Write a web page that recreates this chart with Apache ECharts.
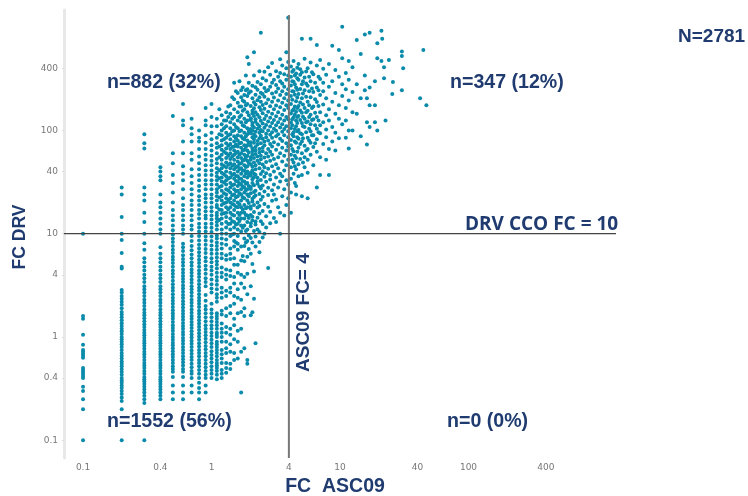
<!DOCTYPE html>
<html>
<head>
<meta charset="utf-8">
<style>html,body{margin:0;padding:0;background:#fff}#c{width:748px;height:496px}</style>
<script src="https://cdn.jsdelivr.net/npm/echarts@6/dist/echarts.min.js"></script>
</head>
<body>
<div id="c"></div>
<script>
const xTickLabels = [0.1, 0.4, 1, 4, 10, 40, 100, 400];
const yTickLabels = [0.1, 0.4, 1, 4, 10, 40, 100, 400];

// FC DRV values per FC ASC09 column
const col01 = [0.1,0.2,0.25,0.3,0.33,0.4,0.42,0.44,0.46,0.48,0.5,0.63,0.66,0.69,0.72,0.75,0.84,1.05,1.5,1.6,10];
const col02 = [0.1,0.2,0.24,0.26,0.28,0.3,0.32,0.34,0.36,0.38,0.4,0.43,0.46,0.49,0.52,0.55,0.58,0.62,0.66,0.7,0.75,0.8,0.85,0.9,0.95,1,1.07,1.14,1.2,1.28,1.36,1.45,1.55,1.65,1.75,1.9,2.05,2.2,2.35,2.5,2.7,2.85,4.6,4.8,6.5,8.7,10,14.5,24,28];
const col03 = [0.1,0.23,0.25,0.27,0.29,0.31,0.33,0.35,0.37,0.39,0.41,0.44,0.47,0.5,0.53,0.56,0.6,0.64,0.68,0.72,0.77,0.82,0.87,0.92,0.98,1.04,1.1,1.17,1.25,1.33,1.42,1.52,1.62,1.72,1.85,2,2.15,2.3,2.5,2.7,2.9,3.1,3.4,3.7,4,4.4,4.8,5.3,5.8,7,8.1,10,13,16,21,24,28,67,75,92];
const col04 = [0.25,0.27,0.29,0.31,0.33,0.35,0.37,0.39,0.41,0.44,0.47,0.5,0.53,0.56,0.6,0.64,0.68,0.72,0.77,0.82,0.87,0.92,0.98,1.04,1.1,1.17,1.25,1.33,1.42,1.52,1.62,1.72,1.85,2,2.15,2.3,2.5,2.7,2.9,3.1,3.4,3.7,4,4.4,4.8,5.3,5.8,6.4,7.4,10,11,12.5,14,16,18,20,24,33,36,40,44];
const col05 = [0.25,0.29,0.34,0.41,0.46,0.49,0.52,0.56,0.6,0.64,0.68,0.73,0.78,0.83,0.88,0.94,1,1.07,1.15,1.22,1.3,1.4,1.5,1.6,1.7,1.82,1.95,2.1,2.25,2.4,2.6,2.8,3,3.25,3.5,3.8,4.1,4.4,4.8,5.2,5.6,6,6.5,7,7.6,8.3,9,9.8,10.8,12,13.5,15,17,20,25,31,37,48,60,138];
const col06 = [0.25,0.29,0.34,0.41,0.46,0.49,0.53,0.57,0.61,0.65,0.7,0.75,0.8,0.86,0.92,0.98,1.05,1.12,1.2,1.28,1.37,1.47,1.57,1.68,1.8,1.93,2.07,2.22,2.38,2.55,2.75,2.95,3.15,3.4,3.65,3.9,4.2,4.5,4.9,5.3,5.7,6.2,6.8,7.4,8,10,11,12,13.5,15,17,19,22,27,33,38,45,60,78,112,125,180];
const col07 = [0.29,0.34,0.4,0.44,0.47,0.51,0.55,0.6,0.64,0.69,0.74,0.8,0.86,0.92,0.99,1.06,1.14,1.22,1.31,1.4,1.5,1.6,1.72,1.85,2,2.15,2.3,2.5,2.7,2.9,3.1,3.35,3.6,3.9,4.2,4.5,4.9,5.3,5.8,6.3,6.9,7.6,8.5,9.5,11,12,13.5,15,17,19,21,24,27,31,36,42,52,60,78,92,105,130];
const col08 = [0.25,0.29,0.32,0.36,0.4,0.44,0.48,0.52,0.56,0.6,0.65,0.7,0.75,0.81,0.87,0.94,1.01,1.09,1.17,1.26,1.35,1.45,1.56,1.68,1.8,1.95,2.1,2.25,2.4,2.6,2.8,3,3.25,3.5,3.8,4.1,4.4,4.8,5.2,5.6,6.1,6.6,7.2,7.8,8.6,9.5,10.5,11.5,12.5,14,15.5,17,19,21,23,26,29,33,37,42,48,56,66,78,85,100];
const col09 = [0.29,0.34,0.4,0.43,0.47,0.51,0.55,0.6,0.65,0.7,0.76,0.82,0.89,0.96,1.04,1.12,1.2,1.3,1.42,1.55,1.7,1.85,2,2.25,2.55,3.1,3.4,3.7,4.1,4.5,4.9,5.4,5.9,6.5,7.1,7.8,8.6,9.4,10.5,11.5,12.5,14,15,16.5,18,20,22,24,27,30,33,37,41,46,52,58,66,76,90,112,125,165];
const col10 = [0.4,0.44,0.48,0.52,0.57,0.62,0.67,0.73,0.8,0.87,0.94,1.02,1.1,1.2,1.3,1.42,1.55,1.7,1.85,2.1,2.7,2.95,3.25,3.6,4,4.4,4.8,5.3,5.8,6.4,7,7.7,8.5,9.4,10.4,11.4,12.5,13.7,15,16.5,18,20,22,24,27,30,33,37,41,46,51,57,64,72,82,95,110,135,180];
const col11 = [0.39,0.43,0.47,0.5,0.53,0.56,0.6,0.65,0.7,0.75,0.8,0.85,0.9,1,1.05,1.1,1.2,1.3,1.4,1.5,1.6,1.7,2.2,2.4,2.6,2.9,3.2,3.5,3.8,4.2,4.6,5,5.4,5.9,6.4,7,7.6,8.2,9,9.6,11,12,13,14,15,16,18,19,21,23,25,27,30,33,36,39,43,48,53,60,68,75,85,110,130];
const col12 = [0.4,0.44,0.48,0.56,0.62,0.68,0.75,0.9,1,1.1,1.2,1.35,1.65,1.8,2.4,2.7,3,3.8,4.2,4.7,5.8,6.4,7.2,8,9,10,11,12.5,14,15.5,17,19,21,23,26,29,32,35,39,43,47,52,58,65,72,80,90,100,115,140];
const col13 = [0.45,0.5,0.56,0.7,0.78,0.9,1.1,1.25,1.6,1.9,2.5,2.8,3.6,4,4.5,5.6,6.2,7.8,8.8,10,11.5,13,14.5,16,18,20,22,24,27,30,33,36,40,44,49,54,60,67,75,85,95,110,125,150];
const col14 = [0.49,0.55,0.72,0.85,1.05,1.2,1.7,2,2.7,3,3.9,4.4,5.7,6.4,7.2,9.5,11,12.5,14,16,18,20,22,25,28,31,35,39,43,48,53,60,66,74,82,92,105,120,145,175];
const col15 = [0.6,0.7,0.95,1.3,1.5,2.1,2.5,3.3,3.8,5,5.8,7.5,8.5,10,11.5,13,15,17,19,21,24,27,30,34,38,42,47,52,58,64,70,78,88,100,115,135,160,200,290];
const col16 = [0.62,0.9,1.15,1.7,2.4,2.9,4.2,5,7,8,9.5,11,12.5,14,16,18,20,23,26,29,32,36,40,45,50,55,62,70,80,90,105,125,150,185,230];
const col17 = [0.29,0.72,1.2,1.75,2.3,3.3,4,5.5,7.5,10.5,12,14,16,18,21,24,27,30,34,38,43,48,54,60,68,76,88,100,120,140,170,210,245];
const col18 = [0.78,1.6,1.9,3,3.8,5.4,7.6,9,12,14,16,19,22,25,28,32,36,41,46,52,58,65,72,82,95,110,130,160,190,220];
const col19 = [0.55,0.6,2.6,4.1,6,8.5,11,13,15,18,21,24,27,31,35,40,45,51,57,64,72,80,92,105,125,150,180,215,250,510];

const leftColumns = [
  [0.1,col01],[0.2,col02],[0.3,col03],[0.4,col04],[0.5,col05],[0.6,col06],[0.7,col07],[0.8,col08],[0.9,col09],[1,col10],
  [1.1,col11],[1.2,col12],[1.3,col13],[1.4,col14],[1.5,col15],[1.6,col16],[1.7,col17],[1.8,col18],[1.9,col19]
];
const coreColumns = [
  [1.15,[13.6,17.2,22.4,28.3,34.5,41.2,55,70,92,160]],
  [1.25,[15.8,19.7,24.6,31.4,37.6,45.3,62,82,105,125]],
  [1.35,[12.4,17.3,21.2,26.2,34.2,46.6,57,71,90,135,170]],
  [1.45,[9.8,13.2,15.3,19.4,23.6,29.4,37,45.6,56,69,98,130,210]],
  [1.55,[8.2,12.3,18.2,22.6,25.7,32.4,36.2,44,60.5,73,84,108,240]],
  [1.65,[13.3,15.2,19.3,24.7,30.6,34.3,42.3,47.5,58.4,75,98,135,170,300]],
  [1.75,[6.1,11.4,17.2,22.5,28.6,32.2,40.6,51,64,84,112,155,195,260]],
  [1.85,[8.2,10.6,15.2,17.6,26.4,30.4,38.3,44.2,55,69,88,120,175,245,340]],
  [1.95,[7.1,9.6,14.2,19.8,23,29,37.2,48.4,61,76,98,140,230,290,440]]
];
const midColumns = [
  [2.02,[1.62,3.1,6.4,9.1,11.8,12.6,15.2,17.4,18.3,24.6,27.1,28.4,36.5,39,47,52,55,71,77,94,103,126,131,172,238]],
  [2.08,[1.74,5.1,8.2,13.4,14.6,20.5,21.8,31,33.6,41,44.5,58,63,67,86,99,112,118,146,155,205,270]],
  [2.14,[2.35,4.3,10.6,16.2,19,22.7,25.3,29.5,35.2,38,49,54,76,82,91,107,138,164,187,340,570]],
  [2.2,[0.87,7.5,9.4,12.3,13.1,23.4,26.1,37.2,42,46,59,64,69,88,97,121,128,150,178,221,262]],
  [2.28,[11,14.3,17.9,20.1,30.5,32.2,34.8,51,56,73,79,104,115,142,196,248,295]],
  [2.36,[6.6,8.3,10.4,15.7,18.6,24.2,28.6,43,48,61,66,84,95,110,134,168,209,375]],
  [2.42,[13.2,21.3,27.4,33.1,37.9,52.5,57,75,89,101,124,158,190,232,280,880]],
  [2.5,[9.2,12.4,16.6,22.8,29.3,40.2,46.7,63,68,83,98,117,147,176,225,320]],
  [2.58,[10,19.4,25.6,35.7,44,54.6,72,78,106,129,162,212,258,370]],
  [2.66,[11.5,14.8,31.8,38.6,49.5,60,86,93,113,139,183,240,305]],
  [2.76,[4.65,18.2,23.7,27.8,42.5,56,66,80,100,122,152,199,246,410]],
  [2.86,[12.6,16.3,33.5,37,51,62,74,91,109,133,171,265,345]],
  [2.96,[20.8,26.4,45,58,70,85,96,118,145,190,228,290,450]],
  [3.06,[14.2,24,30,40,53,77,104,126,160,208,310]],
  [3.18,[13,21.5,35,47,65,88,99,112,137,174,235,275,375]],
  [3.3,[18,28,43,55,73,92,120,150,195,255,330]],
  [3.42,[10,16,32,38,60,83,107,130,168,220,300,360,490]],
  [3.55,[23,36,50,68,79,97,115,142,185,240,285,425]],
  [3.68,[15,27,41,57,90,103,125,158,205,265,350]],
  [3.82,[19,33,46,64,75,110,135,175,225,310,400,570]],
  [3.95,[22,30,52,70,86,98,128,165,195,250,340,460,1230]]
];
const rightColumns = [
  [4.15,[16,25,34,44,58,72,81,105,119,146,180,215,272,330,415]],
  [4.25,[52,66,92,112,128,155,198,240,300,370]],
  [4.35,[38,49,63,88,96,134,160,238,296,385,470]],
  [4.45,[31,45,57,78,103,142,170,222,280,340]],
  [4.55,[24,29,42,54,76,110,125,152,192,260,355]],
  [4.65,[62,86,98,118,135,165,208,248,320,405]],
  [4.75,[36,47,68,83,101,138,172,225,310,440]],
  [4.9,[53,74,94,126,156,186,252,345,390]],
  [5.05,[23,37,60,78,92,118,148,205,280,365,770]],
  [5.15,[49,84,110,136,178,228,300]],
  [5.3,[44,55,71,108,130,165,245,325,495]],
  [5.45,[64,96,120,150,212,285,372]],
  [5.6,[22,39,52,66,85,122,155,190,270,400]],
  [5.75,[80,104,135,175,240,330]],
  [5.9,[58,76,98,115,142,210,300,455,770]],
  [6.05,[90,126,165,255,365]],
  [6.2,[46,69,90,128,170,235,350]],
  [6.4,[75,112,148,200,290]],
  [6.6,[28,62,82,104,135,188,260,425,670]],
  [6.8,[96,125,172,245,330]],
  [7,[37,55,94,112,150,220,315,480]],
  [7.4,[74,120,178,240,290,395]],
  [7.8,[52,86,102,140,205,345]],
  [8.2,[37,66,125,160,265,440]],
  [8.7,[78,108,190,300,660]],
  [9.2,[64,95,145,230,385]],
  [9.8,[84,130,175,330,600]],
  [10.4,[115,215,280,500,1010]],
  [11.1,[85,125,165,250,360]],
  [11.7,[67,100,195,310,470]],
  [12.5,[100,150,235,410]],
  [13.5,[145,280,750]],
  [14.5,[88,205,550]],
  [15.6,[245,340,850]],
  [16.2,[73,120,205]],
  [17,[108,175,260,880]],
  [18.7,[120,175,300]]
];
const scatteredPairs = [
  [19.5,100],[19.5,500],[19.5,700],[21,470],[21,920],[21.3,770],[22,320],[22,410],[22.6,125],
  [24,480],[25.5,225],[25.8,295],[30.3,245],[30.3,525],[30.3,580],[31,400],[42,205],[44.5,600],[47,175]
];
const refVertical = [[4,1310],[4,0.0674]];
const refHorizontal = [[0.0711,10],[1406,10]];

const points = [];
[leftColumns, coreColumns, midColumns, rightColumns].forEach(function (group) {
  group.forEach(function (c) { c[1].forEach(function (y) { points.push([c[0], y]); }); });
});
scatteredPairs.forEach(function (p) { points.push(p); });

const navy = '#1f3b70';
function note(text, x, y, size, family, rotation) {
  return { type: 'text', x: x, y: y, rotation: rotation || 0, z: 20,
    style: { text: text, fill: navy, font: 'bold ' + size + 'px ' + (family || '"Liberation Sans"') } };
}
const chart = echarts.init(document.getElementById('c'), null, { renderer: 'canvas' });
chart.setOption({
  animation: false,
  backgroundColor: '#fff',
  grid: { left: 64, right: 128, top: 10, bottom: 38, outerBoundsMode: 'none' },
  xAxis: {
    type: 'log', min: 0.0711, max: 1510, logBase: 10,
    name: 'FC  ASC09', nameLocation: 'middle', nameGap: 16,
    nameTextStyle: { color: navy, fontWeight: 'bold', fontSize: 19.5, fontFamily: 'Liberation Sans', padding: [0, 14, 0, 0] },
    axisLine: { show: false }, axisTick: { show: false }, splitLine: { show: false }, minorSplitLine: { show: false },
    axisLabel: { customValues: xTickLabels, formatter: function (v) { return String(v); }, color: '#777', fontSize: 9, margin: 5, fontFamily: 'DejaVu Sans' }
  },
  yAxis: {
    type: 'log', min: 0.0674, max: 1465, logBase: 10,
    name: 'FC DRV', nameLocation: 'middle', nameGap: 35, nameRotate: 90,
    nameTextStyle: { color: navy, fontWeight: 'bold', fontSize: 17.5, fontFamily: 'Liberation Sans', padding: [0, 6, 0, 0] },
    axisLine: { show: true, lineStyle: { color: '#e8e8e8', width: 3 } },
    axisTick: { show: true, customValues: yTickLabels, length: 2, lineStyle: { color: '#ddd' } },
    splitLine: { show: false }, minorSplitLine: { show: false },
    axisLabel: { customValues: yTickLabels, formatter: function (v) { return String(v); }, color: '#777', fontSize: 9, margin: 6, fontFamily: 'DejaVu Sans' }
  },
  series: [
    { type: 'scatter', data: points, symbol: 'circle', symbolSize: 4, clip: false, large: false,
      itemStyle: { color: '#0a8bab', opacity: 1 }, z: 2 },
    { type: 'line', data: refVertical, symbol: 'none', lineStyle: { color: '#777', width: 2 }, z: 5, clip: false },
    { type: 'line', data: refHorizontal, symbol: 'none', lineStyle: { color: '#444', width: 1.3 }, z: 5, clip: false }
  ],
  graphic: [
    note('N=2781', 678, 27, 19),
    note('n=882 (32%)', 107, 73, 19.6),
    note('n=347 (12%)', 450, 73, 19.6),
    note('n=1552 (56%)', 107, 412, 19.6),
    note('n=0 (0%)', 447, 412, 19.6),
    note('DRV CCO FC = 10', 465, 215, 19, '"Open Sans"'),
    note('ASC09 FC= 4', 294, 372, 19, '"Liberation Sans"', Math.PI / 2)
  ]
});
</script>
</body>
</html>
